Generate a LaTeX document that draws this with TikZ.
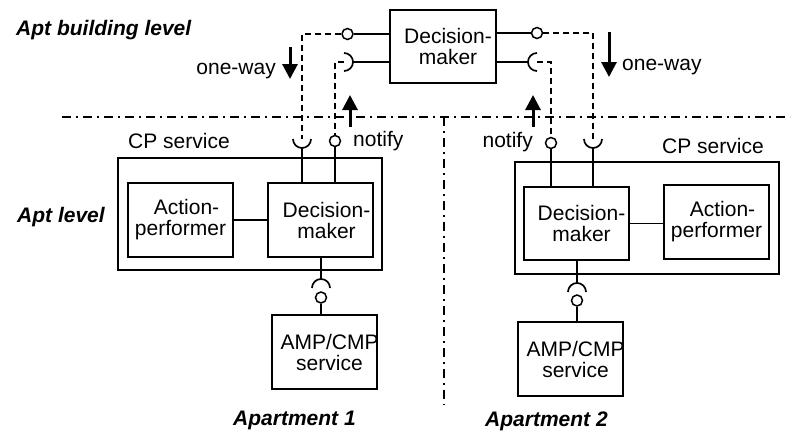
\documentclass[tikz,border=0pt]{standalone}
\usepackage{fontspec}
\setmainfont{Liberation Sans}
\usetikzlibrary{arrows.meta,positioning}

\tikzset{
  box/.style={draw, line width=1.7pt, inner sep=0pt},
  txt/.style={font=\fontsize{21}{21}\selectfont, align=center, inner sep=0pt},
  lbl/.style={font=\fontsize{21}{21}\selectfont, inner sep=0pt},
  hdr/.style={font=\fontsize{21}{21}\selectfont\bfseries\itshape, inner sep=0pt},
  wire/.style={line width=1.7pt},
  dwire/.style={line width=1.5pt, dash pattern=on 6pt off 4pt},
  divider/.style={line width=1.5pt, dash pattern=on 9pt off 5pt on 2pt off 5pt},
  ball/.style={circle, draw, line width=1.5pt, minimum size=11pt, inner sep=0pt},
  flow/.style={line width=3pt, -{Triangle[length=15pt,width=15pt]}}
}

\begin{document}
\begin{tikzpicture}[x=1pt,y=1pt]
  \useasboundingbox (0,0) rectangle (794,-432);
  % level dividers
  \draw[divider] (62,-117) -- (790,-117);
  \draw[divider] (444,-117) -- (444,-405);
  % headings
  \node[hdr, anchor=base west] at (16,-35) {Apt building level};
  \node[hdr, anchor=base west] at (17,-222) {Apt level};
  \node[hdr, anchor=base west] at (233,-425) {Apartment 1};
  \node[hdr, anchor=base west] at (485,-426) {Apartment 2};

  % building level decision-maker
  \node[box, minimum width=106pt, minimum height=73pt] (topdm) at (443,-46.5) {};
  \node[txt, xshift=5pt] at (topdm) {Decision-\\maker};
  \node[ball] (tlball) at (347.5,-34) {};
  \node[ball] (trball) at (537,-33) {};
  \coordinate (tlsock) at (344,-62);
  \coordinate (trsock) at (537,-62);
  \draw[wire] (topdm.west |- tlball) -- (tlball);
  \draw[wire] (topdm.east |- trball) -- (trball);
  \draw[wire] (topdm.west |- tlsock) -- ([xshift=9pt]tlsock);
  \draw[wire] ([yshift=9pt]tlsock) arc[start angle=90, end angle=-90, radius=9];
  \draw[wire] (topdm.east |- trsock) -- ([xshift=-9pt]trsock);
  \draw[wire] ([yshift=9pt]trsock) arc[start angle=90, end angle=270, radius=9];

  % apartment 1
  \node[box, minimum width=264pt, minimum height=112pt] (lcp) at (250,-214) {};
  \node[box, minimum width=105pt, minimum height=74pt] (lap) at (180.5,-220) {};
  \node[txt] at (lap) {\hspace*{12pt}Action-\\performer};
  \node[box, minimum width=105pt, minimum height=74pt] (ldm) at (320.5,-220) {};
  \node[txt, xshift=6pt] at (ldm) {Decision-\\maker};
  \node[box, minimum width=105pt, minimum height=74pt] (lamp) at (324.5,-352) {};
  \node[txt, xshift=5pt] at (lamp) {AMP/CMP\\service};
  \node[lbl, anchor=base west] at (128,-148) {CP service};
  \draw[wire] (lap.east) -- (ldm.west);
  \coordinate (lreq) at (302,-139);
  \node[ball] (lnote) at (335,-141) {};
  \draw[wire] ([xshift=-9pt]lreq) arc[start angle=180, end angle=360, radius=9];
  \draw[wire] ([yshift=-9pt]lreq) -- (ldm.north -| lreq);
  \draw[wire] (lnote) -- (ldm.north -| lnote);
  \coordinate (lbot) at (321,-288);
  \node[ball] (lamb) at (321,-297.5) {};
  \draw[wire] (ldm.south -| lbot) -- ([yshift=9pt]lbot);
  \draw[wire] ([xshift=-9pt]lbot) arc[start angle=180, end angle=0, radius=9];
  \draw[wire] (lamb) -- (lamp.north -| lamb);

  % apartment 2
  \node[box, minimum width=264pt, minimum height=112pt] (rcp) at (647,-218) {};
  \node[box, minimum width=105pt, minimum height=73pt] (rdm) at (576.5,-223.5) {};
  \node[txt, xshift=5pt] at (rdm) {Decision-\\maker};
  \node[box, minimum width=105pt, minimum height=74pt] (rap) at (716.5,-222) {};
  \node[txt] at (rap) {\hspace*{12pt}Action-\\performer};
  \node[box, minimum width=105pt, minimum height=74pt] (ramp) at (570.5,-359) {};
  \node[txt, xshift=5pt] at (ramp) {AMP/CMP\\service};
  \node[lbl, anchor=base west] at (662,-153) {CP service};
  \draw[wire] (rdm.east) -- (rdm.east -| rap.west);
  \coordinate (rreq) at (593,-139);
  \node[ball] (rnote) at (551,-143) {};
  \draw[wire] ([xshift=-9pt]rreq) arc[start angle=180, end angle=360, radius=9];
  \draw[wire] ([yshift=-9pt]rreq) -- (rdm.north -| rreq);
  \draw[wire] (rnote) -- (rdm.north -| rnote);
  \coordinate (rbot) at (577,-292);
  \node[ball] (ramb) at (577,-300.5) {};
  \draw[wire] (rdm.south -| rbot) -- ([yshift=9pt]rbot);
  \draw[wire] ([xshift=-9pt]rbot) arc[start angle=180, end angle=0, radius=9];
  \draw[wire] (ramb) -- (ramp.north -| ramb);

  % dashed bindings between levels
  \draw[dwire] (tlball) -- (tlball -| lreq) -- (lreq);
  \draw[dwire] (tlsock) -- (tlsock -| lnote) -- (lnote);
  \draw[dwire] (trball) -- (trball -| rreq) -- (rreq);
  \draw[dwire] (trsock) -- (trsock -| rnote) -- (rnote);

  % flow hints
  \draw[flow] (290,-47) -- (290,-79);
  \node[lbl, anchor=base east] at (276,-74) {one-way};
  \draw[flow] (350,-127) -- (350,-95);
  \node[lbl, anchor=base west] at (353,-146) {notify};
  \draw[flow] (533,-127) -- (533,-95);
  \node[lbl, anchor=base east] at (533,-147) {notify};
  \draw[flow] (609,-32) -- (609,-77);
  \node[lbl, anchor=base west] at (622,-70) {one-way};
\end{tikzpicture}
\end{document}
